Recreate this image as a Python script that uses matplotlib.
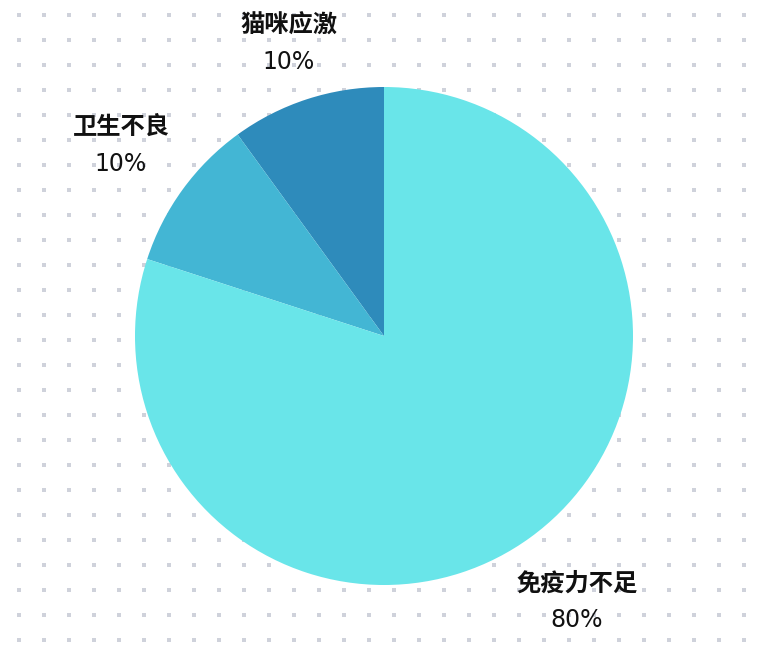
import numpy as np
import matplotlib
matplotlib.use('Agg')
import matplotlib.pyplot as plt

plt.rcParams['font.family'] = ['Noto Sans CJK SC', 'DejaVu Sans']

# pie data
causes = ['猫咪应激', '卫生不良', '免疫力不足']
shares = [10, 10, 80]
colors = ['#2e8bbb', '#43b6d4', '#69e5e9']
label_dist = [1.236, 1.306, 1.317]

W, H = 760, 647
fig = plt.figure(figsize=(W / 100, H / 100), dpi=100)

# dotted background
bg = fig.add_axes([0, 0, 1, 1])
bg.set_xlim(0, W)
bg.set_ylim(H, 0)
bg.axis('off')
gx, gy = np.meshgrid(np.arange(19, W, 25), np.arange(15, H, 25))
bg.scatter(gx.ravel(), gy.ravel(), s=5.5, marker='s', color='#cfd2db', linewidths=0)

# pie, center (384, 336) px, radius 249 px
cx, cy, R = 384, 336, 249
ax = fig.add_axes([(cx - R) / W, (H - cy - R) / H, 2 * R / W, 2 * R / H])
wedges, _ = ax.pie(shares, colors=colors, startangle=90, counterclock=True,
                   radius=1, wedgeprops=dict(linewidth=0))
for w in wedges:
    w.set_clip_on(False)
ax.set_xlim(-1, 1)
ax.set_ylim(-1, 1)
ax.set_aspect('equal')
ax.axis('off')

total = sum(shares)
start = 90.0
for name, val, d in zip(causes, shares, label_dist):
    span = 360.0 * val / total
    mid = np.deg2rad(start + span / 2)
    x, y = d * np.cos(mid), d * np.sin(mid)
    ax.text(x, y + 0.072, name, ha='center', va='center', fontsize=17.5,
            fontweight='bold', color='#111111')
    ax.text(x, y - 0.075, f'{val}%', ha='center', va='center', fontsize=17,
            family='DejaVu Sans', color='#111111')
    start += span

fig.savefig('out.png', dpi=100)
